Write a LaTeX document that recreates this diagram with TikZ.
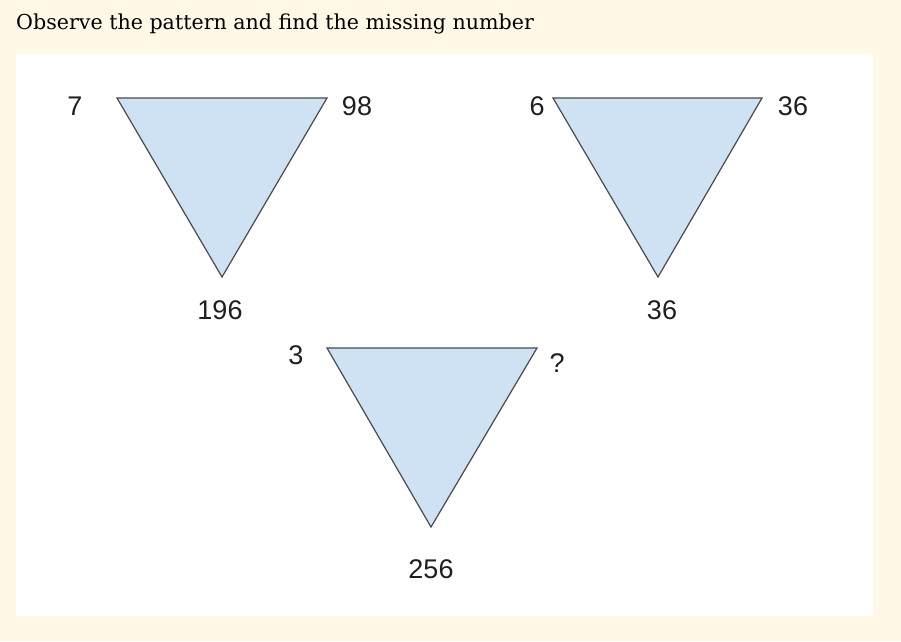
\documentclass[tikz,border=0pt]{standalone}
\usepackage{fontspec}
\setmainfont{DejaVu Serif}
\newfontfamily\numfont{Liberation Sans}
\definecolor{cream}{HTML}{FFF8E6}
\definecolor{trifill}{HTML}{CFE2F3}
\definecolor{triline}{HTML}{4A4A4A}

\tikzstyle{tri}=[fill=trifill, draw=triline, line width=1.2pt, line join=miter]
\tikzstyle{num}=[inner sep=0pt, font=\numfont\fontsize{27}{27}\selectfont, text=black!88]

\begin{document}
\begin{tikzpicture}[x=1pt, y=-1pt]
      \fill[cream] (0, 0) rectangle (901, 641);
      \useasboundingbox (0, 0) rectangle (901, 641);
      \fill[white] (16, 54) rectangle (873, 616);
      \node[anchor=base west, inner sep=0pt, font=\fontsize{20.6}{21}\selectfont] (title) at (16, 29) {Observe the pattern and find the missing number};

      % first triangle
      \coordinate (a1) at (117, 98);
      \coordinate (b1) at (327, 98);
      \coordinate (c1) at (222, 277);
      \draw[tri] (a1) -- (b1) -- (c1) -- cycle;
      \node[num] (l1) at (75, 106) {7};
      \node[num] (r1) at (357, 106) {98};
      \node[num] (d1) at (220, 310) {196};

      % second triangle
      \coordinate (a2) at (553, 98);
      \coordinate (b2) at (762, 98);
      \coordinate (c2) at (658, 277);
      \draw[tri] (a2) -- (b2) -- (c2) -- cycle;
      \node[num] (l2) at (537, 106) {6};
      \node[num] (r2) at (793, 106) {36};
      \node[num] (d2) at (662, 310) {36};

      % third triangle
      \coordinate (a3) at (327, 348);
      \coordinate (b3) at (537, 348);
      \coordinate (c3) at (431, 527);
      \draw[tri] (a3) -- (b3) -- (c3) -- cycle;
      \node[num] (l3) at (296, 355) {3};
      \node[num] (r3) at (557, 363) {?};
      \node[num] (d3) at (431, 569) {256};
    \end{tikzpicture}
\end{document}
